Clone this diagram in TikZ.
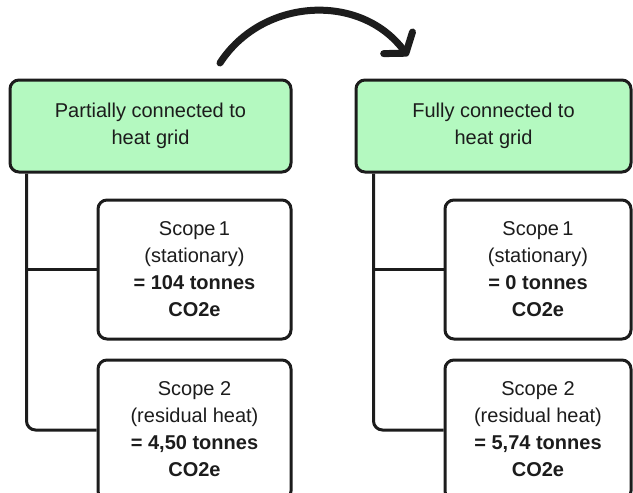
\documentclass[tikz,border=0pt]{standalone}
\usepackage{fontspec}
\setmainfont{Liberation Sans}
\usetikzlibrary{arrows.meta,calc}
\definecolor{ink}{HTML}{1C1C1C}
\definecolor{mint}{HTML}{B4F9C0}
\begin{document}
\begin{tikzpicture}[x=1pt,y=-1pt,
  txt/.style={font=\fontsize{20}{27}\selectfont, text=ink, align=center, inner sep=0pt},
  box/.style={txt, draw=ink, line width=3pt, rounded corners=9pt, fill=white},
  greenbox/.style={box, fill=mint},
  link/.style={draw=ink, line width=3pt, rounded corners=9pt},
  bigarrow/.style={draw=ink, line width=7pt, line cap=round,
     -{Straight Barb[length=13pt,width=36pt,round]}}]
\useasboundingbox (0,0) rectangle (633,493);
\clip (0,0) rectangle (633,493);
% green header boxes
\node[greenbox, minimum width=281pt, minimum height=92pt] (g1) at (150.5,126) {Partially connected to\\heat grid};
\node[greenbox, minimum width=275pt, minimum height=92pt] (g2) at (493.5,126) {Fully connected to\\heat grid};
% scope boxes left
\node[box, minimum width=193pt, minimum height=139pt] (s11) at (194.5,269.5) {Scope\,1\\(stationary)\\\textbf{= 104 tonnes}\\\textbf{CO2e}};
\node[box, minimum width=193pt, minimum height=140pt] (s12) at (194.5,430) {};
\node[txt] (t12) at (194.5,429) {Scope 2\\(residual heat)\\\textbf{= 4,50 tonnes}\\\textbf{CO2e}};
% scope boxes right
\node[box, minimum width=186pt, minimum height=139pt] (s21) at (538,269.5) {Scope\,1\\(stationary)\\\textbf{= 0 tonnes}\\\textbf{CO2e}};
\node[box, minimum width=186pt, minimum height=140pt] (s22) at (538,430) {};
\node[txt] (t22) at (538,429) {Scope 2\\(residual heat)\\\textbf{= 5,74 tonnes}\\\textbf{CO2e}};
% connectors
\coordinate (c1) at ($(g1.south west)+(18,0)$);
\coordinate (c2) at ($(g2.south west)+(19,0)$);
\draw[link] (c1) |- (s12.west);
\draw[link, rounded corners=0pt] (c1 |- s11.west) -- (s11.west);
\draw[link] (c2) |- (s22.west);
\draw[link, rounded corners=0pt] (c2 |- s21.west) -- (s21.west);
% arrow
\coordinate (a0) at (220,63);
\coordinate (a1) at (408,56);
\draw[bigarrow] (a0) .. controls (262,-2) and (360,-8) .. (a1);
\end{tikzpicture}
\end{document}
